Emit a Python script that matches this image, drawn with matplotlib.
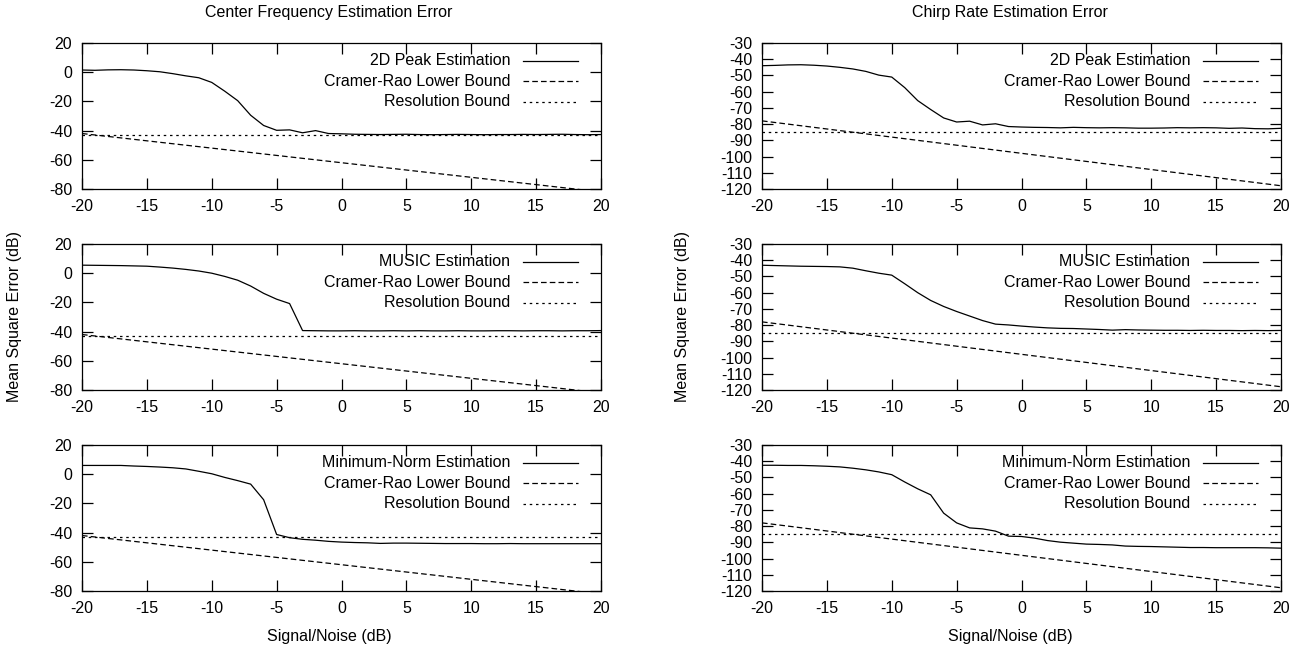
import matplotlib
matplotlib.use("Agg")
import matplotlib.pyplot as plt

plt.rcParams['font.family'] = ['Liberation Sans', 'DejaVu Sans']
plt.rcParams['font.size'] = 11.5
plt.rcParams['axes.unicode_minus'] = False

# SNR axis (dB)
snr = list(range(-20, 21))

# Center frequency estimation error (dB)
cf_peak = [1.5, 1.3, 1.6, 1.7, 1.5, 1.0, 0.3, -1.0, -2.5, -3.8,
           -7.0, -13.0, -19.5, -29.5, -36.5, -39.8, -39.5, -41.5, -40.0, -42.0,
           -42.2, -42.5, -42.6, -42.7, -42.6, -42.5, -42.7, -42.8, -42.7, -42.6,
           -42.7, -42.8, -42.7, -42.7, -42.6, -42.7, -42.6, -42.5, -42.7, -42.8, -42.7]
cf_music = [5.5, 5.4, 5.3, 5.2, 5.0, 4.8, 4.2, 3.5, 2.6, 1.5,
            0.0, -2.2, -4.8, -8.8, -13.8, -17.8, -20.8, -39.3, -39.4, -39.5,
            -39.5, -39.4, -39.5, -39.5, -39.4, -39.5, -39.4, -39.5, -39.5, -39.4,
            -39.5, -39.5, -39.4, -39.4, -39.5, -39.4, -39.4, -39.5, -39.4, -39.4, -39.3]
cf_minnorm = [6.0, 6.0, 6.0, 6.0, 5.6, 5.3, 4.9, 4.4, 3.6, 2.0,
              0.3, -2.2, -4.4, -6.8, -17.5, -41.3, -43.5, -44.6, -45.2, -46.0,
              -46.5, -46.8, -47.0, -47.4, -47.2, -47.2, -47.3, -47.4, -47.5, -47.5,
              -47.5, -47.6, -47.6, -47.5, -47.6, -47.6, -47.6, -47.6, -47.6, -47.6, -47.6]

# Chirp rate estimation error (dB)
cr_peak = [-44.0, -43.8, -43.5, -43.4, -43.7, -44.2, -45.0, -46.0, -47.5, -49.8,
           -51.0, -57.5, -65.5, -71.0, -76.2, -78.7, -78.2, -80.5, -79.8, -81.5,
           -81.8, -82.0, -82.1, -82.3, -82.0, -82.2, -82.3, -82.2, -82.3, -82.5,
           -82.5, -82.4, -82.2, -82.3, -82.2, -82.3, -82.6, -82.4, -82.8, -82.9, -82.6]
cr_music = [-43.1, -43.3, -43.5, -43.7, -43.8, -43.9, -44.1, -44.9, -46.5, -48.0,
            -49.2, -54.5, -60.0, -64.8, -68.5, -71.6, -74.4, -77.2, -79.4, -79.9,
            -80.6, -81.2, -81.7, -82.0, -82.1, -82.4, -82.7, -83.1, -82.8, -83.0,
            -83.1, -83.2, -83.2, -83.3, -83.2, -83.3, -83.3, -83.4, -83.3, -83.4, -83.3]
cr_minnorm = [-42.5, -42.5, -42.6, -42.6, -42.8, -43.1, -43.5, -44.3, -45.3, -46.6,
              -48.3, -52.8, -57.0, -60.7, -72.0, -78.0, -81.1, -81.7, -83.1, -86.2,
              -86.4, -87.4, -88.9, -89.9, -90.5, -91.1, -91.3, -91.6, -92.3, -92.5,
              -92.6, -92.8, -93.0, -93.2, -93.2, -93.3, -93.3, -93.3, -93.3, -93.4, -93.6]

# bounds (straight lines, end points)
bound_snr = [-20, 20]
cf_crb = [-42, -82]
cf_res = [-43, -43]
cr_crb = [-78, -118]
cr_res = [-85, -85]

methods = ['2D Peak Estimation', 'MUSIC Estimation', 'Minimum-Norm Estimation']
cf_curves = [cf_peak, cf_music, cf_minnorm]
cr_curves = [cr_peak, cr_music, cr_minnorm]

W, H = 1302, 654
fig = plt.figure(figsize=(W / 100, H / 100), dpi=100)

col_left = [82, 762]
ax_w = 519
row_top = [43, 244, 445]
ax_h = 146

dash = (0, (4.5, 2.5))
dot = (0, (2, 3))


def draw_legend(ax, label):
    rows = [(label, '-'), ('Cramer-Rao Lower Bound', dash), ('Resolution Bound', dot)]
    for i, (txt, ls) in enumerate(rows):
        yy = 0.88 - i * 0.142
        ax.text(0.825, yy, txt, transform=ax.transAxes, ha='right', va='center')
        ax.plot([0.85, 0.955], [yy, yy], transform=ax.transAxes, color='black',
                lw=0.9, linestyle=ls)


for c in range(2):
    for r in range(3):
        l = col_left[c] / W
        b = 1 - (row_top[r] + ax_h) / H
        ax = fig.add_axes([l, b, ax_w / W, ax_h / H])
        if c == 0:
            ax.plot(snr, cf_curves[r], color='black', lw=0.9)
            ax.plot(bound_snr, cf_crb, color='black', lw=0.9, linestyle=dash)
            ax.plot(bound_snr, cf_res, color='black', lw=0.9, linestyle=dot)
            ax.set_ylim(-80, 20)
            ax.set_yticks(range(-80, 21, 20))
        else:
            ax.plot(snr, cr_curves[r], color='black', lw=0.9)
            ax.plot(bound_snr, cr_crb, color='black', lw=0.9, linestyle=dash)
            ax.plot(bound_snr, cr_res, color='black', lw=0.9, linestyle=dot)
            ax.set_ylim(-120, -30)
            ax.set_yticks(range(-120, -29, 10))
        ax.set_xlim(-20, 20)
        ax.set_xticks(range(-20, 21, 5))
        ax.tick_params(direction='in', length=8, width=0.9, top=True, right=True,
                       pad=7, labelsize=11.5)
        for s in ax.spines.values():
            s.set_linewidth(0.9)
        draw_legend(ax, methods[r])

fig.text(329 / W, 1 - 13 / H, 'Center Frequency Estimation Error', ha='center', va='center')
fig.text(1010 / W, 1 - 13 / H, 'Chirp Rate Estimation Error', ha='center', va='center')
fig.text(329 / W, 1 - 636 / H, 'Signal/Noise (dB)', ha='center', va='center')
fig.text(1010 / W, 1 - 636 / H, 'Signal/Noise (dB)', ha='center', va='center')
fig.text(15 / W, 1 - 316 / H, 'Mean Square Error (dB)', ha='center', va='center', rotation=90)
fig.text(683 / W, 1 - 316 / H, 'Mean Square Error (dB)', ha='center', va='center', rotation=90)

fig.savefig('out.png', dpi=100)
